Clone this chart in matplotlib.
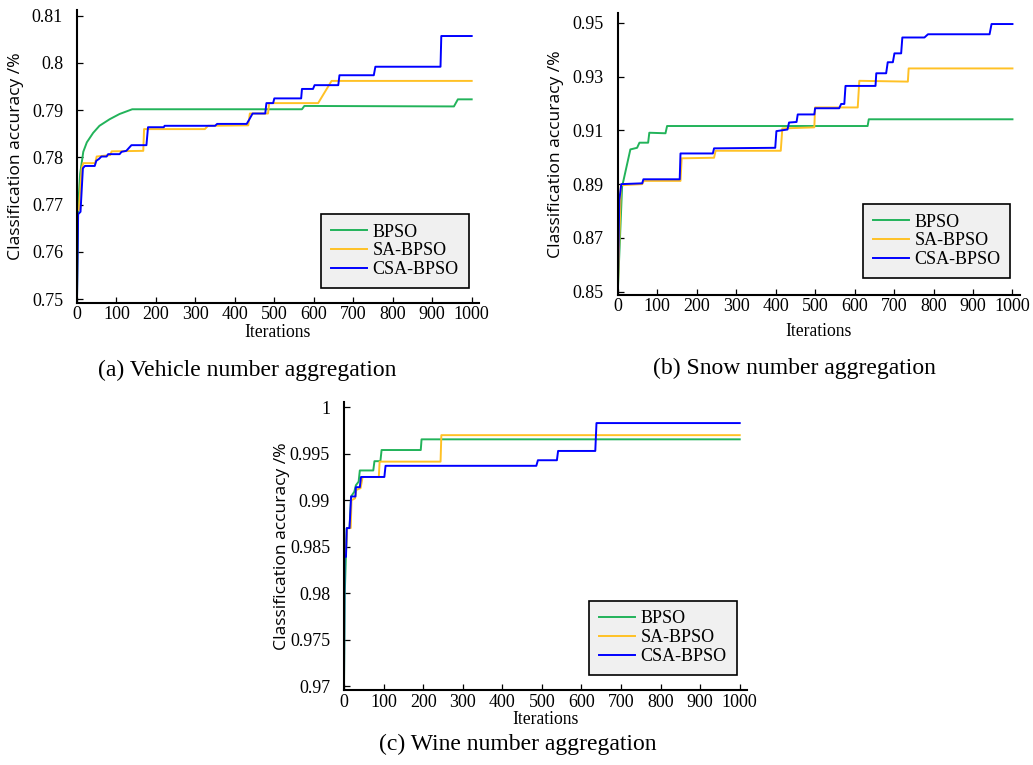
import matplotlib
matplotlib.use("Agg")
import matplotlib.pyplot as plt
import numpy as np

# (iteration, accuracy) breakpoints
bpso_a = [(0, 0.7495), (3, 0.7696), (8, 0.7765), (16, 0.7812), (25, 0.7832), (41, 0.7852),
          (57, 0.7867), (83, 0.7881), (108, 0.7892), (140, 0.7902), (570, 0.7902),
          (576, 0.7909), (955, 0.7908), (965, 0.7923), (1000, 0.7923)]
sa_a = [(0, 0.7689), (5, 0.7689), (12, 0.7777), (16, 0.7788), (46, 0.7788), (50, 0.7802),
        (84, 0.7805), (88, 0.7813), (168, 0.7814), (170, 0.7860), (324, 0.7860), (332, 0.7867),
        (434, 0.7868), (438, 0.7893), (484, 0.7893), (487, 0.7915), (611, 0.7915),
        (645, 0.7962), (1000, 0.7962)]
csa_a = [(0, 0.7495), (3, 0.7680), (9, 0.7685), (15, 0.7777), (20, 0.7782), (45, 0.7782),
         (49, 0.7793), (56, 0.7797), (62, 0.7802), (75, 0.7802), (79, 0.7807), (108, 0.7807),
         (113, 0.7812), (125, 0.7814), (138, 0.7826), (176, 0.7826), (180, 0.7864),
         (220, 0.7864), (222, 0.7867), (350, 0.7867), (355, 0.7871), (430, 0.7871),
         (437, 0.7881), (445, 0.7893), (477, 0.7893), (480, 0.7915), (497, 0.7915),
         (500, 0.7925), (568, 0.7925), (570, 0.7945), (598, 0.7945), (602, 0.7953),
         (662, 0.7953), (665, 0.7974), (752, 0.7974), (756, 0.7992), (921, 0.7992),
         (923, 0.8057), (1000, 0.8057)]

bpso_b = [(0, 0.8495), (11, 0.8890), (32, 0.9029), (49, 0.9035), (55, 0.9054), (77, 0.9054),
          (80, 0.9091), (121, 0.9089), (125, 0.9116), (633, 0.9116), (636, 0.9141),
          (1000, 0.9141)]
sa_b = [(0, 0.8495), (8, 0.8896), (62, 0.8900), (66, 0.8912), (159, 0.8912), (162, 0.8996),
        (244, 0.8998), (248, 0.9024), (413, 0.9024), (417, 0.9107), (498, 0.9111),
        (500, 0.9185), (608, 0.9185), (612, 0.9284), (735, 0.9281), (737, 0.9330),
        (1000, 0.9330)]
csa_b = [(0, 0.8495), (4, 0.8841), (9, 0.8900), (62, 0.8903), (65, 0.8918), (157, 0.8918),
         (159, 0.9014), (241, 0.9014), (244, 0.9033), (399, 0.9035), (402, 0.9097),
         (430, 0.9103), (434, 0.9129), (453, 0.9131), (456, 0.9159), (498, 0.9159),
         (500, 0.9182), (561, 0.9182), (566, 0.9198), (574, 0.9198), (577, 0.9265),
         (653, 0.9265), (655, 0.9312), (680, 0.9312), (684, 0.9353), (697, 0.9353),
         (701, 0.9386), (718, 0.9386), (721, 0.9445), (777, 0.9445), (786, 0.9457),
         (942, 0.9457), (947, 0.9495), (1000, 0.9495)]

bpso_c = [(0, 0.9697), (2, 0.9800), (7, 0.9870), (14, 0.9870), (18, 0.9904), (26, 0.9909),
          (30, 0.9916), (37, 0.9920), (40, 0.9932), (74, 0.9932), (77, 0.9942), (92, 0.9942),
          (95, 0.9954), (194, 0.9954), (196, 0.99655), (1000, 0.99655)]
sa_c = [(0, 0.9840), (5, 0.9845), (8, 0.9870), (17, 0.9870), (19, 0.9900), (28, 0.9902),
        (31, 0.9911), (42, 0.9913), (47, 0.9925), (88, 0.9925), (90, 0.99415), (244, 0.99415),
        (246, 0.9970), (1000, 0.9970)]
csa_c = [(0, 0.9697), (1, 0.9839), (5, 0.9839), (7, 0.9870), (14, 0.9870), (18, 0.9904),
         (29, 0.9904), (30, 0.9914), (40, 0.9914), (43, 0.9925), (102, 0.9925), (105, 0.9937),
         (486, 0.9937), (490, 0.9943), (538, 0.9943), (541, 0.9953), (635, 0.9953),
         (638, 0.9983), (1000, 0.9983)]

series_names = ["BPSO", "SA-BPSO", "CSA-BPSO"]
colors = ["#22b35a", "#ffc125", "#0000ff"]

yticks_a = [0.75, 0.76, 0.77, 0.78, 0.79, 0.80, 0.81]
ylabels_a = ["0.75", "0.76", "0.77", "0.78", "0.79", "0.8", "0.81"]
yticks_b = [0.85, 0.87, 0.89, 0.91, 0.93, 0.95]
ylabels_b = ["0.85", "0.87", "0.89", "0.91", "0.93", "0.95"]
yticks_c = [0.97, 0.975, 0.98, 0.985, 0.99, 0.995, 1.0]
ylabels_c = ["0.97", "0.975", "0.98", "0.985", "0.99", "0.995", "1"]
xticks = list(range(0, 1001, 100))

captions = ["(a) Vehicle number aggregation", "(b) Snow number aggregation",
            "(c) Wine number aggregation"]

SERIF = "Liberation Serif"
SANS = "Open Sans"

fig = plt.figure(figsize=(10.33, 7.65), dpi=100)

panels = [
    # rect, ylim, curves, yticks, ylabels, legend anchor, xlabel y, caption pos
    ([0.0745, 0.6039, 0.389, 0.383], (0.7492, 0.8112), (bpso_a, sa_a, csa_a),
     yticks_a, ylabels_a, (0.975, 0.051), -0.072, (247 / 1033, 1 - 370 / 765)),
    ([0.598, 0.6144, 0.389, 0.3686], (0.8488, 0.9536), (bpso_b, sa_b, csa_b),
     yticks_b, ylabels_b, (0.977, 0.060), -0.099, (794 / 1033, 1 - 368 / 765)),
    ([0.333, 0.098, 0.39, 0.3769], (0.96957, 1.0006), (bpso_c, sa_c, csa_c),
     yticks_c, ylabels_c, (0.975, 0.052), -0.073, (518 / 1033, 1 - 744 / 765)),
]

for (rect, ylim, curves, yt, yl, leg_anchor, xlab_y, cap_pos), caption in zip(panels, captions):
    ax = fig.add_axes(rect)
    for pts, name, c in zip(curves, series_names, colors):
        arr = np.array(pts)
        ax.plot(arr[:, 0], arr[:, 1], color=c, lw=1.4, label=name)
    ax.set_xlim(0, 1018)
    ax.set_ylim(*ylim)
    ax.set_xticks(xticks)
    ax.set_xticklabels([str(t) for t in xticks], fontfamily=SERIF, fontsize=13)
    ax.set_yticks(yt)
    ax.set_yticklabels(yl, fontfamily=SERIF, fontsize=13)
    ax.tick_params(axis="both", direction="in", length=4, width=0.9)
    ax.tick_params(axis="y", pad=10)
    ax.tick_params(axis="x", pad=2.5)
    for side in ("top", "right"):
        ax.spines[side].set_visible(False)
    for side in ("left", "bottom"):
        ax.spines[side].set_linewidth(1.5)
    ax.set_xlabel("Iterations", fontfamily=SERIF, fontsize=12.7)
    ax.xaxis.set_label_coords(0.5, xlab_y)
    ax.set_ylabel("Classification accuracy /%", fontfamily=SANS, fontsize=12.6)
    ax.yaxis.set_label_coords(-0.133, 0.5)
    leg = ax.legend(loc="lower right", bbox_to_anchor=leg_anchor, borderaxespad=0,
                    prop={"family": SERIF, "size": 13}, fancybox=False, framealpha=1,
                    edgecolor="black", facecolor="#f0f0f0", handlelength=2.0,
                    handletextpad=0.3, labelspacing=0.1, borderpad=0.55)
    leg.get_frame().set_linewidth(1.2)
    fig.text(cap_pos[0], cap_pos[1], caption, ha="center", va="center",
             fontfamily=SERIF, fontsize=17)

fig.savefig("out.png", dpi=100)
